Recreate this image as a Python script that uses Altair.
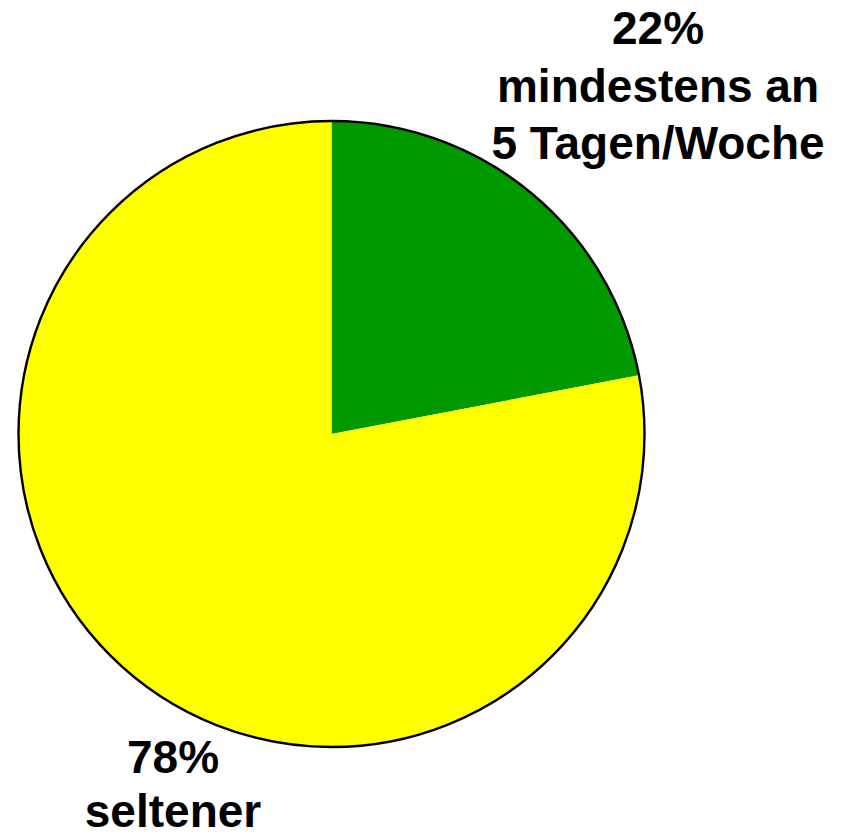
import altair as alt
import pandas as pd

categories = ["mindestens an 5 Tagen/Woche", "seltener"]
shares = [22, 78]
colors = ["#009900", "#FFFF00"]
label_top = "22%\nmindestens an\n5 Tagen/Woche"
label_bottom = "78%\nseltener"

df = pd.DataFrame({"cat": categories, "share": shares, "order": [0, 1]})

CX, CY, R = 323.5, 426, 313

base = alt.Chart(df)

pie = base.mark_arc(outerRadius=R, stroke=None).encode(
    theta=alt.Theta("share:Q", stack=True),
    color=alt.Color("cat:N", scale=alt.Scale(domain=categories, range=colors), legend=None),
    order=alt.Order("order:Q"),
    x=alt.value(CX),
    y=alt.value(CY),
)

outline = base.transform_aggregate(total="sum(share)").mark_arc(
    outerRadius=R, fillOpacity=0, stroke="black", strokeWidth=2.4
).encode(
    theta=alt.Theta("total:Q"),
    x=alt.value(CX),
    y=alt.value(CY),
)

txt_top = alt.Chart(pd.DataFrame({"t": [label_top]})).mark_text(
    font="Liberation Sans", fontWeight="bold", fontSize=46, lineBreak="\n",
    lineHeight=57.5, align="center", baseline="alphabetic", color="black"
).encode(text="t:N", x=alt.value(650), y=alt.value(36))

txt_bottom = alt.Chart(pd.DataFrame({"t": [label_bottom]})).mark_text(
    font="Liberation Sans", fontWeight="bold", fontSize=46, lineBreak="\n",
    lineHeight=54, align="center", baseline="alphabetic", color="black"
).encode(text="t:N", x=alt.value(165), y=alt.value(765))

chart = alt.layer(pie, outline, txt_top, txt_bottom).properties(
    width=825, height=821, autosize=alt.AutoSizeParams(type="none"), padding=0
).configure_view(stroke=None)

chart.save("out.html", embed_options={"renderer": "svg", "actions": False})
